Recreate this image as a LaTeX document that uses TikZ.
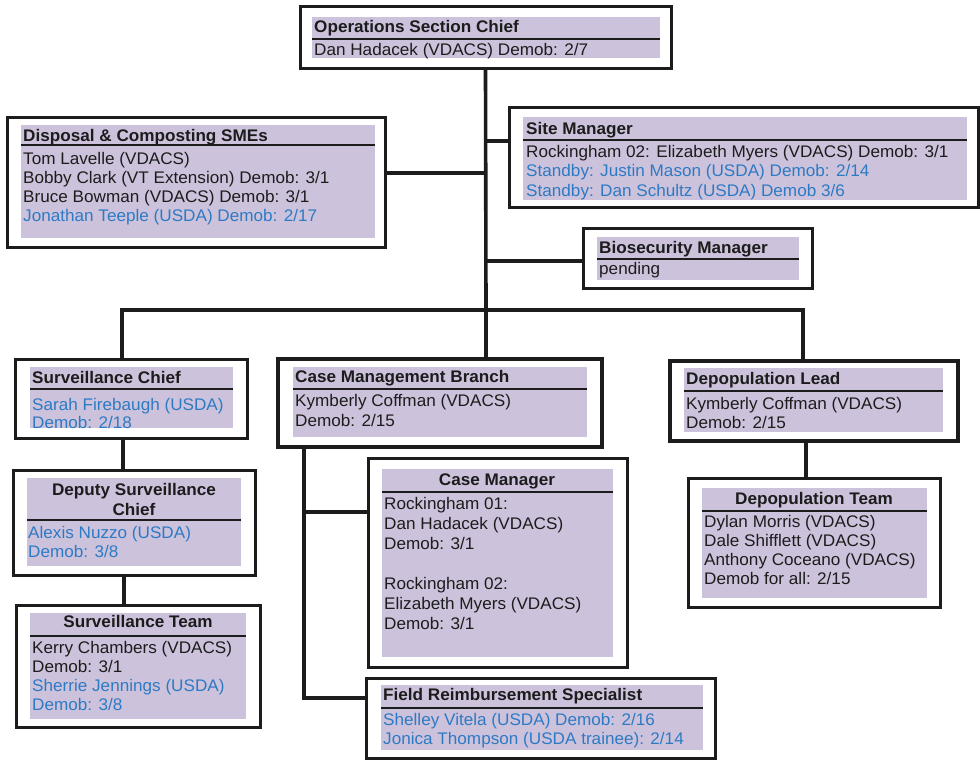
\documentclass[tikz,border=0pt]{standalone}
\usepackage{fontspec}
\setmainfont{Liberation Sans}[FakeStretch=1.02]
\definecolor{lav}{RGB}{205,194,219}
\definecolor{ink}{RGB}{28,28,28}
\definecolor{usda}{RGB}{45,122,196}
% outer frame of an org box: name, x1, y1, x2, y2, extra style
\newcommand\orgbox[6]{%
  \pgfmathsetmacro\obw{#4-#2}\pgfmathsetmacro\obh{#5-#3}%
  \node[outerbox,#6,minimum width=\obw pt,minimum height=\obh pt] (#1) at ({(#2+#4)/2},{(#3+#5)/2}) {};}
\begin{document}
\begin{tikzpicture}[x=1pt,y=-1pt,
  outerbox/.style={draw=ink,line width=3pt,fill=white,inner sep=0pt,rectangle},
  heavy/.style={line width=4.6pt},
  band/.style={fill=lav},
  sepline/.style={draw=ink,line width=1.6pt},
  txt/.style={inner sep=0pt,anchor=base west,text=ink,font=\fontsize{16.8}{19}\selectfont},
  ttl/.style={txt,font=\fontsize{16.8}{19}\selectfont\bfseries},
  ttlc/.style={ttl,anchor=base},
  link/.style={draw=ink,line width=3.6pt},
  mainlink/.style={draw=ink,line width=4.8pt,line cap=rect}]
\fill[white] (0,0) rectangle (980,763);
\useasboundingbox (0,0) rectangle (980,763);

% Operations Section Chief
\orgbox{ops}{300}{6}{671}{68}{}
\fill[band] (312,17) rectangle (660,58);
\draw[sepline] (312,39) -- (660,39);
\node[ttl] (ops-t) at (314,32) {Operations Section Chief};
\node[txt] (ops-b) at (314,55) {Dan Hadacek (VDACS) Demob: 2/7};

% Disposal & Composting SMEs
\orgbox{disp}{7}{117}{385}{247}{}
\fill[band] (21,125) rectangle (375,238);
\draw[sepline] (21,145) -- (375,145);
\node[ttl] (disp-t) at (23,141) {Disposal \& Composting SMEs};
\foreach \t [count=\i from 0] in {Tom Lavelle (VDACS), Bobby Clark (VT Extension) Demob: 3/1,
  Bruce Bowman (VDACS) Demob: 3/1, {\textcolor{usda}{Jonathan Teeple (USDA) Demob: 2/17}}}
  \node[txt] (disp-b\i) at (23,{164+19.2*\i}) {\t};

% Site Manager
\orgbox{site}{509}{107}{978}{207}{}
\fill[band] (523,117) rectangle (967,200);
\draw[sepline] (523,140) -- (967,140);
\node[ttl] (site-t) at (526,134) {Site Manager};
\foreach \t [count=\i from 0] in {Rockingham 02: Elizabeth Myers (VDACS) Demob: 3/1,
  {\textcolor{usda}{Standby: Justin Mason (USDA) Demob: 2/14}},
  {\textcolor{usda}{Standby: Dan Schultz (USDA) Demob 3/6}}}
  \node[txt] (site-b\i) at (526,{157+19.5*\i}) {\t};

% Biosecurity Manager
\orgbox{bio}{583}{228}{812}{288}{}
\fill[band] (597,237) rectangle (799,280);
\draw[sepline] (597,259) -- (799,259);
\node[ttl] (bio-t) at (599,253) {Biosecurity Manager};
\node[txt] (bio-b) at (599,274) {pending};

% Surveillance Chief
\orgbox{schief}{15}{359}{247}{438}{}
\fill[band] (30,367) rectangle (233,428);
\draw[sepline] (30,389) -- (233,389);
\node[ttl] (schief-t) at (32,383) {Surveillance Chief};
\node[txt,text=usda] (schief-b0) at (32,410) {Sarah Firebaugh (USDA)};
\node[txt,text=usda] (schief-b1) at (32,428) {Demob: 2/18};

% Deputy Surveillance Chief
\orgbox{deputy}{13}{470}{255}{575}{}
\fill[band] (27,478) rectangle (241,566);
\draw[sepline] (27,520) -- (241,520);
\node[ttlc] (deputy-t0) at (134,495) {Deputy Surveillance};
\node[ttlc] (deputy-t1) at (134,515) {Chief};
\node[txt,text=usda] (deputy-b0) at (28,538) {Alexis Nuzzo (USDA)};
\node[txt,text=usda] (deputy-b1) at (28,557) {Demob: 3/8};

% Surveillance Team
\orgbox{steam}{16}{605}{260}{727}{}
\fill[band] (30,613) rectangle (246,719);
\draw[sepline] (30,636) -- (246,636);
\node[ttlc] (steam-t) at (138,627) {Surveillance Team};
\foreach \t [count=\i from 0] in {Kerry Chambers (VDACS), Demob: 3/1,
  {\textcolor{usda}{Sherrie Jennings (USDA)}}, {\textcolor{usda}{Demob: 3/8}}}
  \node[txt] (steam-b\i) at (32,{653+19.3*\i}) {\t};

% Case Management Branch
\orgbox{casebr}{278}{359}{602}{447}{heavy}
\fill[band] (293,367) rectangle (587,437);
\draw[sepline] (293,389) -- (587,389);
\node[ttl] (casebr-t) at (295,382) {Case Management Branch};
\node[txt] (casebr-b0) at (295,406) {Kymberly Coffman (VDACS)};
\node[txt] (casebr-b1) at (295,426) {Demob: 2/15};

% Case Manager
\orgbox{casemgr}{368}{458}{627}{667}{}
\fill[band] (382,469) rectangle (613,657);
\draw[sepline] (382,492) -- (613,492);
\node[ttlc] (casemgr-t) at (497,485) {Case Manager};
\foreach \t [count=\i from 0] in {Rockingham 01:, Dan Hadacek (VDACS), Demob: 3/1}
  \node[txt] (casemgr-a\i) at (384,{509+20*\i}) {\t};
\foreach \t [count=\i from 0] in {Rockingham 02:, Elizabeth Myers (VDACS), Demob: 3/1}
  \node[txt] (casemgr-c\i) at (384,{589+20*\i}) {\t};

% Depopulation Lead
\orgbox{dlead}{670}{361}{958}{441}{heavy}
\fill[band] (684,368) rectangle (943,432);
\draw[sepline] (684,391) -- (943,391);
\node[ttl] (dlead-t) at (686,384) {Depopulation Lead};
\node[txt] (dlead-b0) at (686,409) {Kymberly Coffman (VDACS)};
\node[txt] (dlead-b1) at (686,428) {Demob: 2/15};

% Depopulation Team
\orgbox{dteam}{688}{478}{940}{607}{}
\fill[band] (702,488) rectangle (927,598);
\draw[sepline] (702,511) -- (927,511);
\node[ttlc] (dteam-t) at (814,504) {Depopulation Team};
\foreach \t [count=\i from 0] in {Dylan Morris (VDACS), Dale Shifflett (VDACS),
  Anthony Coceano (VDACS), Demob for all: 2/15}
  \node[txt] (dteam-b\i) at (704,{527+19.3*\i}) {\t};

% Field Reimbursement Specialist
\orgbox{field}{366}{678}{715}{758}{}
\fill[band] (381,685) rectangle (703,750);
\draw[sepline] (381,708) -- (703,708);
\node[ttl] (field-t) at (383,700) {Field Reimbursement Specialist};
\node[txt,text=usda] (field-b0) at (383,725) {Shelley Vitela (USDA) Demob: 2/16};
\node[txt,text=usda] (field-b1) at (383,744) {Jonica Thompson (USDA trainee): 2/14};

% junction points of the reporting lines
\coordinate (hub) at (486,310);
\coordinate (mainL) at (122,310);
\coordinate (mainR) at (803,310);
\coordinate (jD) at (486,173);
\coordinate (jS) at (486,141);
\coordinate (jB) at (486,261);
\coordinate (xS1) at (123,0);
\coordinate (xS2) at (124,0);
\coordinate (xD) at (806,0);
\coordinate (xC) at (304,0);
\coordinate (jM) at (304,512);
\coordinate (jF) at (304,698);

% reporting lines
\draw[link] (ops.south) -- (hub);
\draw[link] (jD) -- (jD -| disp.east);
\draw[link] (jS) -- (jS -| site.west);
\draw[link] (jB) -- (jB -| bio.west);
\draw[mainlink] (mainL) -- (mainR);
\draw[link] (mainL) -- (mainL |- schief.north);
\draw[link] (hub) -- (hub |- casebr.north);
\draw[link] (mainR) -- (mainR |- dlead.north);
\draw[link] (xS1 |- schief.south) -- (xS1 |- deputy.north);
\draw[link] (xS2 |- deputy.south) -- (xS2 |- steam.north);
\draw[link] (xD |- dlead.south) -- (xD |- dteam.north);
\draw[link] (xC |- casebr.south) -- (jF) -- (jF -| field.west);
\draw[link] (jM) -- (jM -| casemgr.west);
\end{tikzpicture}
\end{document}
